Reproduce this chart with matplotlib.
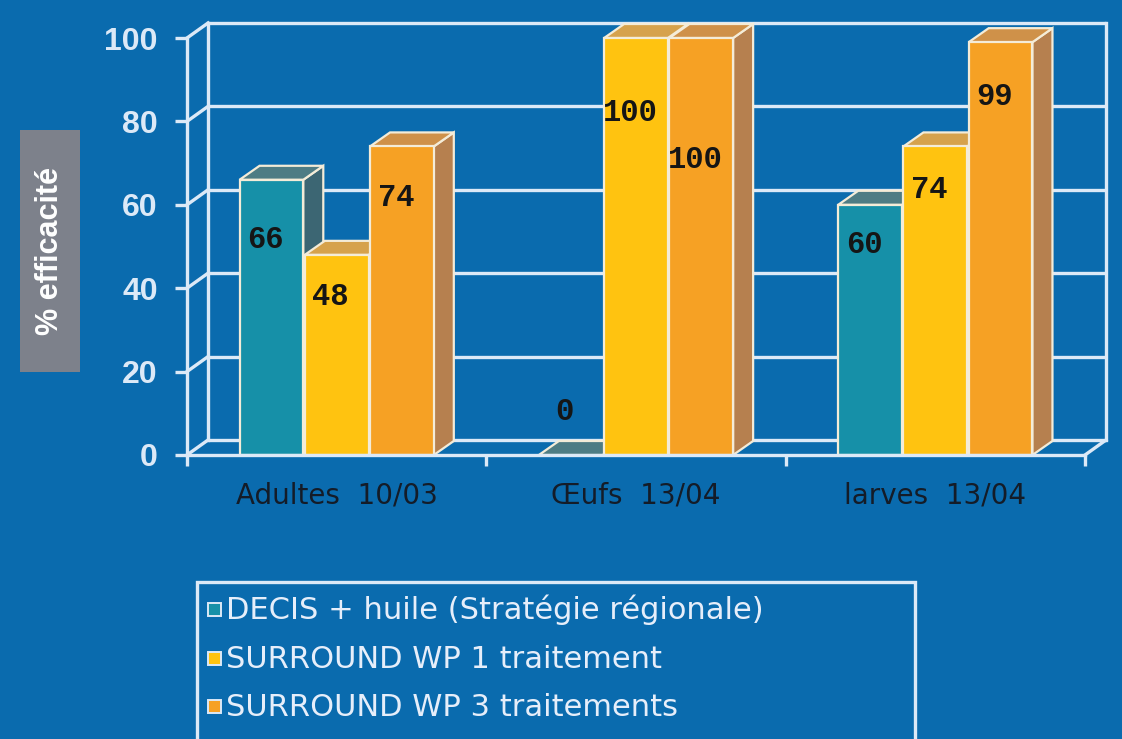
import matplotlib
matplotlib.use("Agg")
import matplotlib.pyplot as plt
from matplotlib.patches import Rectangle, Polygon
import numpy as np

# ---- data ----
categories = ["Adultes  10/03", "Œufs  13/04", "larves  13/04"]
series_names = ["DECIS + huile (Stratégie régionale)",
                "SURROUND WP 1 traitement",
                "SURROUND WP 3 traitements"]
decis = [66, 0, 60]
surround1 = [48, 100, 74]
surround3 = [74, 100, 99]
yticks = [0, 20, 40, 60, 80, 100]
ylabel = "% efficacité"

# ---- style ----
W_PX, H_PX = 1122, 739
bg = "#0a6bae"
line_c = "#dce9f7"
front_c = ["#1690a8", "#ffc310", "#f6a124"]
top_c = ["#4e7c84", "#d6a24c", "#cf9149"]
side_c = ["#3c6673", "#c99640", "#b6804f"]
edge_c = "#f4ecd8"
label_drop_px = [[60, 42, 52], [-43, 75, 122], [40, 44, 55]]

fig = plt.figure(figsize=(W_PX / 100, H_PX / 100), dpi=100)
fig.patch.set_facecolor(bg)

axL, axR, axT, axB = 187, 1085, 38, 455
ax = fig.add_axes([axL / W_PX, 1 - axB / H_PX, (axR - axL) / W_PX, (axB - axT) / H_PX])
ax.set_facecolor("none")
ax.set_xlim(0, 3)
ax.set_ylim(0, 100)

pxx = 3 / (axR - axL)      # data units per px (x)
pxy = 100 / (axB - axT)    # data units per px (y)
wdx, wdy = 21 * pxx, 15 * pxy   # wall depth
bdx, bdy = 20 * pxx, 14 * pxy   # bar depth

lw = 2.4
# back wall + side wall grid
for yv in yticks:
    ax.plot([wdx, 3 + wdx], [yv + wdy, yv + wdy], color=line_c, lw=lw, clip_on=False, zorder=1,
            solid_capstyle="butt")
    ax.plot([0, wdx], [yv, yv + wdy], color=line_c, lw=lw, clip_on=False, zorder=1)
ax.plot([wdx, wdx], [wdy, 100 + wdy], color=line_c, lw=lw, clip_on=False, zorder=1)
ax.plot([3 + wdx, 3 + wdx], [wdy, 100 + wdy], color=line_c, lw=lw, clip_on=False, zorder=1)
ax.plot([3, 3 + wdx], [0, wdy], color=line_c, lw=lw, clip_on=False, zorder=1)

# bars
values = [decis, surround1, surround3]
bw = 0.213
offs = [-0.218, 0.0, 0.218]
z = 2
for gi in range(len(categories)):
    for si in range(3):
        v = values[si][gi]
        xc = gi + 0.5 + offs[si]
        x0 = xc - bw / 2
        if v > 0:
            ax.add_patch(Rectangle((x0, 0), bw, v, facecolor=front_c[si], edgecolor=edge_c,
                                   lw=1.6, zorder=z, clip_on=False))
            ax.add_patch(Polygon([(x0 + bw, 0), (x0 + bw + bdx, bdy), (x0 + bw + bdx, v + bdy),
                                  (x0 + bw, v)], closed=True, facecolor=side_c[si],
                                 edgecolor=edge_c, lw=1.6, zorder=z - 0.5, clip_on=False))
        ax.add_patch(Polygon([(x0, v), (x0 + bw, v), (x0 + bw + bdx, v + bdy), (x0 + bdx, v + bdy)],
                             closed=True, facecolor=top_c[si], edgecolor=edge_c, lw=1.6,
                             zorder=z - 0.5, clip_on=False))
        ax.text(xc - 6 * pxx, v - label_drop_px[gi][si] * pxy, str(v), ha="center", va="center",
                fontsize=22, fontweight="bold", family="Liberation Mono", color="#151515",
                zorder=z + 0.5)
        z += 1

# axes / ticks
for s in ["top", "right"]:
    ax.spines[s].set_visible(False)
for s in ["left", "bottom"]:
    ax.spines[s].set_color(line_c)
    ax.spines[s].set_linewidth(lw)
    ax.spines[s].set_zorder(30)
ax.set_yticks(yticks)
ax.set_yticklabels([str(t) for t in yticks])
ax.tick_params(axis="y", colors=line_c, length=9, width=lw, pad=12, labelsize=23)
for lab in ax.get_yticklabels():
    lab.set_fontweight("bold")
    lab.set_family("Liberation Sans")
ax.set_xticks([0.5, 1.5, 2.5])
ax.set_xticklabels(categories)
ax.set_xticks([0, 1, 2, 3], minor=True)
ax.tick_params(axis="x", which="major", length=0, pad=19, labelsize=20, labelcolor="#141c28")
ax.tick_params(axis="x", which="minor", length=8, width=lw, color=line_c)
for lab in ax.get_xticklabels():
    lab.set_family("DejaVu Sans")

# y label in grey box
fig.patches.append(Rectangle((20 / W_PX, 1 - 372 / H_PX), 60 / W_PX, 242 / H_PX,
                             transform=fig.transFigure, facecolor="#7d818b", edgecolor="none"))
fig.text(50 / W_PX, 1 - 251 / H_PX, ylabel, rotation=90, ha="center", va="center",
         fontsize=22, fontweight="bold", color="white", family="Liberation Sans")

# legend (manual)
fig.patches.append(Rectangle((197 / W_PX, -0.05), (915 - 197) / W_PX, 1 - 582 / H_PX + 0.05,
                             transform=fig.transFigure, facecolor="none", edgecolor=line_c,
                             lw=2.4))
leg_y = [610, 659, 707]
for si in range(3):
    yy = 1 - leg_y[si] / H_PX
    fig.patches.append(Rectangle((208 / W_PX, yy - 6 / H_PX), 13 / W_PX, 13 / H_PX,
                                 transform=fig.transFigure, facecolor=front_c[si],
                                 edgecolor=line_c, lw=1.4))
    fig.text(226 / W_PX, yy, series_names[si], ha="left", va="center", fontsize=22,
             color="#e6eefa", family="DejaVu Sans")

fig.savefig("out.png", dpi=100, facecolor=bg)
